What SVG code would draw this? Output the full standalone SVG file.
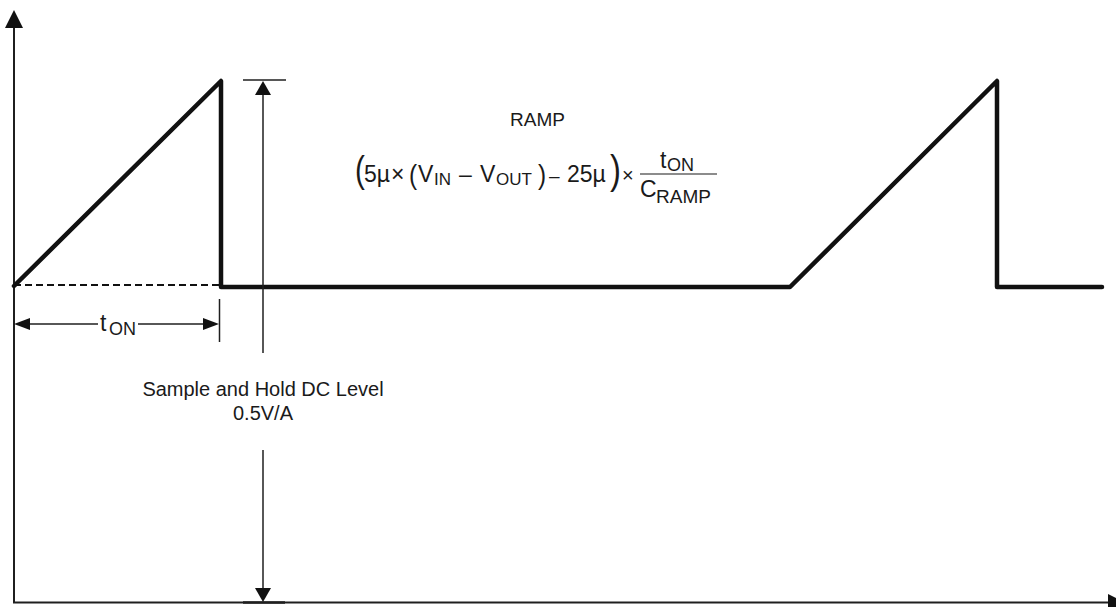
<svg xmlns="http://www.w3.org/2000/svg" width="1116" height="607" viewBox="0 0 1116 607">
<style>
  .ax { stroke:#1f1f1f; stroke-width:2; fill:none; }
  .dim { stroke:#1f1f1f; stroke-width:1.5; fill:none; }
  .wave { stroke:#111; stroke-width:4.5; fill:none; stroke-linejoin:round; stroke-linecap:round; }
  .dash { stroke:#111; stroke-width:2; stroke-dasharray:7 4; fill:none; }
  .ah { fill:#111; stroke:none; }
  text { font-family:"Liberation Sans", Arial, sans-serif; fill:#1a1a1a; }
  .lbl { font-size:20px; }
  .m { font-size:23px; }
  .s { font-size:17px; }
</style>
<rect width="1116" height="607" fill="#ffffff"/>

<g id="axes">
  <line class="ax" x1="14" y1="26" x2="14" y2="603"/>
  <polygon class="ah" points="14,10 5,28 23,28"/>
  <line class="ax" x1="13" y1="602.5" x2="1110" y2="602.5"/>
  <polygon class="ah" points="1126,603 1108,594 1108,612"/>
</g>

<g id="waveform">
  <line class="dash" x1="14" y1="285" x2="219" y2="285"/>
  <polyline class="wave" points="14,286 221,81 221,287 790,287 997,81 997,287 1102,287"/>
</g>

<g id="connectors">
  <g id="dc-level-dimension">
    <line class="dim" x1="243" y1="80" x2="286" y2="80"/>
    <line class="dim" x1="243" y1="602.5" x2="285" y2="602.5" style="stroke-width:2.5"/>
    <line class="dim" x1="263" y1="94" x2="263" y2="353"/>
    <line class="dim" x1="263" y1="450" x2="263" y2="589"/>
    <polygon class="ah" points="263,81 255,95 271,95"/>
    <polygon class="ah" points="263,602 255,588 271,588"/>
  </g>
  <g id="ton-dimension">
    <line class="dim" x1="219.5" y1="299" x2="219.5" y2="342"/>
    <line class="dim" x1="29" y1="324" x2="98" y2="324"/>
    <line class="dim" x1="138" y1="324" x2="205" y2="324"/>
    <polygon class="ah" points="14,324 30,318 30,330"/>
    <polygon class="ah" points="219,324 203,318 203,330"/>
  </g>
</g>

<g id="ton-label">
  <text class="m" x="100" y="331">t</text>
  <text class="s" x="109" y="335" style="font-size:18px">ON</text>
</g>

<g id="dc-level-label">
  <text class="lbl" x="263" y="396" text-anchor="middle">Sample and Hold DC Level</text>
  <text class="lbl" x="263" y="420" text-anchor="middle">0.5V/A</text>
</g>

<g id="ramp-label">
  <text x="510" y="126" style="font-size:19px">RAMP</text>
</g>

<g id="ramp-formula">
  <text transform="translate(355,182) scale(0.8,1)" style="font-size:37px">(</text>
  <text class="m" x="364" y="182">5µ</text>
  <text class="m" x="391" y="182">×</text>
  <text transform="translate(409,183.5) scale(0.9,1)" style="font-size:27px">(</text>
  <text class="m" x="418" y="182">V</text>
  <text class="s" x="434" y="185">IN</text>
  <text class="m" x="459" y="182">–</text>
  <text class="m" x="480" y="182">V</text>
  <text class="s" x="496" y="185">OUT</text>
  <text transform="translate(538,183.5) scale(0.9,1)" style="font-size:27px">)</text>
  <text x="549" y="182" style="font-size:19px">–</text>
  <text class="m" x="567" y="182">25µ</text>
  <text transform="translate(610,184) scale(0.8,1)" style="font-size:41px">)</text>
  <text x="622" y="182" style="font-size:20px">×</text>
  <line x1="640" y1="174" x2="717" y2="174" stroke="#1a1a1a" stroke-width="1.2"/>
  <text class="m" x="660" y="168">t</text>
  <text class="s" x="667" y="171" style="font-size:18px">ON</text>
  <text class="m" x="640" y="197">C</text>
  <text x="656" y="203" style="font-size:19px">RAMP</text>
</g>
</svg>
